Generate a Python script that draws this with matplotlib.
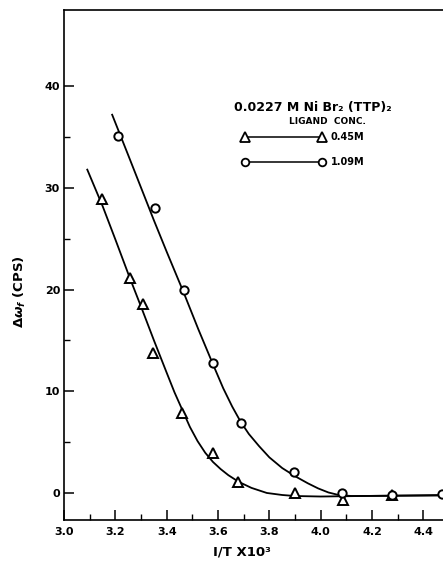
import numpy as np
import matplotlib
matplotlib.use('Agg')
import matplotlib.pyplot as plt
from matplotlib.ticker import FixedLocator

tri_x = [3.148, 3.255, 3.306, 3.347, 3.458, 3.581, 3.676, 3.900, 4.086, 4.279]
tri_y = [28.9, 21.1, 18.6, 13.8, 7.85, 3.9, 1.1, 0.0, -0.7, -0.2]

circ_x = [3.209, 3.355, 3.466, 3.581, 3.688, 3.896, 4.084, 4.279, 4.474]
circ_y = [35.1, 28.0, 20.0, 12.76, 6.9, 2.1, 0.0, -0.2, -0.1]

# ── hand-drawn fitted curves ──
tri_curve_x = [3.09, 3.15, 3.20, 3.255, 3.30, 3.35, 3.40, 3.43, 3.46, 3.49,
               3.52, 3.55, 3.58, 3.61, 3.64, 3.68, 3.73, 3.79, 3.85, 3.90,
               4.00, 4.48]
tri_curve_y = [31.8, 28.2, 24.9, 21.2, 18.3, 15.0, 11.8, 9.9, 8.2, 6.5,
               5.1, 3.95, 3.05, 2.35, 1.75, 1.1, 0.5, 0.0, -0.2, -0.3,
               -0.35, -0.2]

circ_curve_x = [3.187, 3.25, 3.30, 3.35, 3.40, 3.466, 3.523, 3.581, 3.62,
                3.655, 3.688, 3.72, 3.76, 3.80, 3.85, 3.90, 3.95, 3.99,
                4.03, 4.07, 4.12, 4.48]
circ_curve_y = [37.2, 33.2, 30.0, 26.8, 23.7, 19.7, 16.1, 12.6, 10.3,
                8.5, 7.0, 5.8, 4.6, 3.5, 2.45, 1.65, 0.95, 0.45,
                0.05, -0.2, -0.3, -0.25]

x_ticks = [3.0, 3.2, 3.4, 3.6, 3.8, 4.0, 4.2, 4.4]
x_ticklabels = ['3.0', '3.2', '3.4', '3.6', '3.8', '4.0', '4.2', '4.4']
x_minor = [3.1, 3.3, 3.5, 3.7, 3.9, 4.1, 4.3]
y_ticks = [0, 10, 20, 30, 40]
y_minor = [5, 15, 25, 35]

plt.rcParams['font.family'] = ['DejaVu Sans']
plt.rcParams['font.weight'] = 'bold'

fig = plt.figure(figsize=(4.43, 5.61), dpi=100)
ax = fig.add_axes([64.2 / 443, 1 - 519.7 / 561, (443 - 64.2) / 443, 509.7 / 561])

lw = 1.3
ax.plot(tri_curve_x, tri_curve_y, color='black', lw=lw, zorder=2)
ax.plot(circ_curve_x, circ_curve_y, color='black', lw=lw, zorder=2)
ax.plot(tri_x, tri_y, ls='none', marker='^', ms=7, mfc='white',
        mec='black', mew=1.4, zorder=3)
ax.plot(circ_x, circ_y, ls='none', marker='o', ms=6, mfc='white',
        mec='black', mew=1.4, zorder=3)

ax.set_xlim(3.0, 4.477)
ax.set_ylim(-2.63, 47.5)

ax.set_xticks(x_ticks)
ax.set_xticklabels(x_ticklabels)
ax.xaxis.set_minor_locator(FixedLocator(x_minor))
ax.set_yticks(y_ticks)
ax.yaxis.set_minor_locator(FixedLocator(y_minor))

ax.tick_params(which='major', direction='in', length=7, width=1.1,
               labelsize=8, pad=5)
ax.tick_params(which='minor', direction='in', length=4, width=1.0)
ax.tick_params(axis='y', which='major', pad=3)

for side in ['left', 'bottom', 'top']:
    ax.spines[side].set_linewidth(1.2)
ax.spines['right'].set_visible(False)

# axis labels
fig.text(20 / 443, 1 - 292 / 561, r'$\Delta\omega_f$ (CPS)', rotation=90,
         ha='center', va='center', fontsize=9.5)
fig.text(242 / 443, 1 - 552 / 561, 'I/T X10³', ha='center', va='center',
         fontsize=9.5)

# legend, drawn by hand like the original
ax.text(0.657, 0.808, '0.0227 M Ni Br₂ (TTP)₂', transform=ax.transAxes,
        ha='center', va='center', fontsize=9)
ax.text(0.696, 0.782, 'LIGAND  CONC.', transform=ax.transAxes,
        ha='center', va='center', fontsize=6.5)
ax.plot([0.477, 0.681], [0.751, 0.751], transform=ax.transAxes, color='black',
        lw=1.1, marker='^', ms=6.5, mfc='white', mec='black', mew=1.3)
ax.text(0.703, 0.751, '0.45M', transform=ax.transAxes, ha='left',
        va='center', fontsize=7)
ax.plot([0.477, 0.681], [0.702, 0.702], transform=ax.transAxes, color='black',
        lw=1.1, marker='o', ms=5.5, mfc='white', mec='black', mew=1.3)
ax.text(0.703, 0.702, '1.09M', transform=ax.transAxes, ha='left',
        va='center', fontsize=7)

fig.savefig('out.png', dpi=100)
